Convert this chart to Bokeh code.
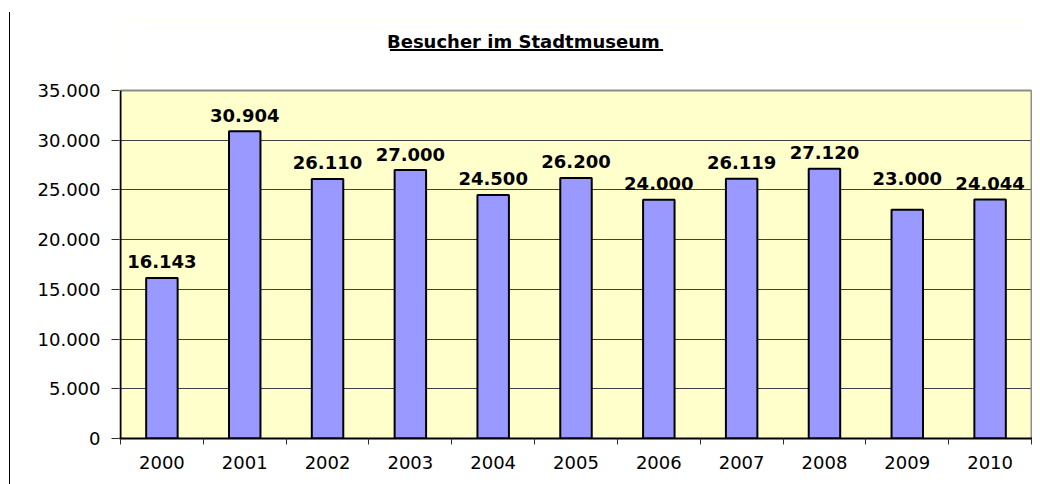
from bokeh.plotting import figure
from bokeh.models import FixedTicker, ColumnDataSource, Div, Range1d
from bokeh.layouts import row
from bokeh.core.properties import value
from bokeh.embed import file_html
from bokeh.resources import INLINE

# ---- data ----
years = ["2000", "2001", "2002", "2003", "2004", "2005", "2006", "2007", "2008", "2009", "2010"]
visitors = [16143, 30904, 26110, 27000, 24500, 26200, 24000, 26119, 27120, 23000, 24044]
y_ticks = [0, 5000, 10000, 15000, 20000, 25000, 30000, 35000]
y_tick_labels = ["0", "5.000", "10.000", "15.000", "20.000", "25.000", "30.000", "35.000"]
title_text = "Besucher im  Stadtmuseum"


def de(v):
    return f"{v:,}".replace(",", ".")


n = len(years)
centers = [i + 0.5 for i in range(n)]
label_off = [-16] * n
label_off[years.index("2009")] = -31

Y_TOP = y_ticks[-1]
y_end = Y_TOP * 418 / 348
PAD = 0.012

FONT = value("DejaVu Sans")

p = figure(width=1022, height=476,
           x_range=Range1d(-PAD, n + PAD), y_range=Range1d(0, y_end),
           output_backend="svg", toolbar_location=None,
           min_border_left=109, min_border_right=0,
           min_border_top=20, min_border_bottom=38)
p.outline_line_color = None
p.background_fill_color = "#FFFFCC"
p.border_fill_color = "white"

# grid
p.xgrid.visible = False
p.ygrid.ticker = FixedTicker(ticks=y_ticks[1:-1])
p.ygrid.grid_line_color = "#404040"
p.ygrid.grid_line_width = 1

# white region above plot area (title zone), extended past the frame edges
p.quad(left=[-1], right=[n + 1], bottom=[Y_TOP], top=[y_end * 1.2],
       fill_color="white", line_color=None)

# bars
p.vbar(x=centers, top=visitors, width=0.38, fill_color="#9999FF",
       line_color="black", line_width=2)

# plot area borders
p.segment(x0=[0, n], y0=[Y_TOP, 0], x1=[n, n], y1=[Y_TOP, Y_TOP],
          line_color="#8c8c8c", line_width=2)
p.segment(x0=[0], y0=[0], x1=[0], y1=[Y_TOP], line_color="black", line_width=2)

# value labels
src = ColumnDataSource(dict(x=centers, y=visitors,
                            t=[de(v) for v in visitors], off=label_off))
p.text(x="x", y="y", text="t", y_offset="off", source=src,
       text_align="center", text_baseline="middle",
       text_font=FONT, text_font_style="bold", text_font_size="18px",
       text_color="black")

# title with underline
title_x = 4.902
title_half = 1.65
p.text(x=[title_x], y=[39926], text=[title_text], text_align="center",
       text_baseline="middle", text_font=FONT, text_font_style="bold",
       text_font_size="18px", text_color="black")
p.segment(x0=[title_x - title_half], y0=[39071], x1=[title_x + title_half], y1=[39071],
          line_color="black", line_width=2)

# y axis
p.yaxis.ticker = FixedTicker(ticks=y_ticks)
p.yaxis.major_label_overrides = dict(zip(y_ticks, y_tick_labels))
p.yaxis.axis_line_color = None
p.yaxis.major_tick_out = 8
p.yaxis.major_tick_in = 0
p.yaxis.major_tick_line_color = "#303030"
p.yaxis.minor_tick_line_color = None
p.yaxis.major_label_standoff = 11
p.yaxis.major_label_text_font = "DejaVu Sans"
p.yaxis.major_label_text_font_size = "18px"
p.yaxis.major_label_text_color = "black"

# x axis
p.xaxis.ticker = FixedTicker(ticks=centers, minor_ticks=list(range(n + 1)))
p.xaxis.major_label_overrides = dict(zip(centers, years))
p.xaxis.axis_line_color = "black"
p.xaxis.axis_line_width = 2
p.xaxis.major_tick_in = 0
p.xaxis.major_tick_out = 0
p.xaxis.minor_tick_in = 0
p.xaxis.minor_tick_out = 6
p.xaxis.minor_tick_line_color = "#303030"
p.xaxis.major_label_standoff = 11
p.xaxis.major_label_text_font = "DejaVu Sans"
p.xaxis.major_label_text_font_size = "18px"
p.xaxis.major_label_text_color = "black"

edge = Div(width=1, height=472, margin=(12, 0, 0, 9),
           styles={"background-color": "black"})
layout = row(edge, p, spacing=0)

open("out.html", "w").write(file_html(layout, INLINE))
